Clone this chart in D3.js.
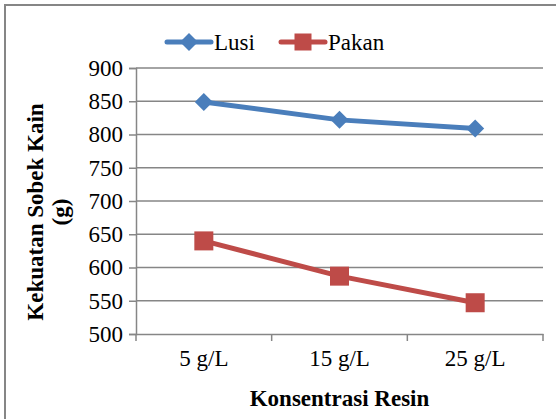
<!DOCTYPE html>
<html>
<head>
<meta charset="utf-8">
<script src="https://cdn.jsdelivr.net/npm/d3@7"></script>
<style>
  html, body { margin: 0; padding: 0; background: #fff; }
  svg { display: block; }
</style>
</head>
<body>
<svg id="chart" width="556" height="419"></svg>
<script>
const categories = ["5 g/L", "15 g/L", "25 g/L"];
const lusi = [849, 822, 809];
const pakan = [640, 587, 547];
const yTicks = [500, 550, 600, 650, 700, 750, 800, 850, 900];
const seriesNames = ["Lusi", "Pakan"];
const seriesColors = ["#4A7EBB", "#BE4B48"];

const svg = d3.select("#chart");
const W = 556, H = 419;
const margin = { left: 136, right: 13, top: 68, bottom: 85 };
const x0 = margin.left, x1 = W - margin.right;
const y0 = H - margin.bottom, y1 = margin.top;
const grid = "#868686";
const FONT = "'Liberation Serif'";

svg.append("rect").attr("x", 5).attr("y", 5).attr("width", 700).attr("height", 700)
  .attr("fill", "none").attr("stroke", grid).attr("stroke-width", 2);

const x = d3.scaleBand().domain(categories).range([x0, x1]);
const y = d3.scaleLinear().domain([500, 900]).range([y0, y1]);

svg.append("g").selectAll("line").data(yTicks.filter(d => d !== 500)).join("line")
  .attr("x1", x0).attr("x2", x1).attr("y1", d => y(d)).attr("y2", d => y(d))
  .attr("stroke", grid).attr("stroke-width", 1.5);

const yAxis = svg.append("g").attr("transform", `translate(${x0},0)`)
  .call(d3.axisLeft(y).tickValues(yTicks).tickSize(7).tickPadding(6).tickFormat(d3.format("d")));
yAxis.select(".domain").attr("stroke", grid).attr("stroke-width", 1.5);
yAxis.selectAll(".tick line").attr("stroke", grid).attr("stroke-width", 1.5);
yAxis.selectAll("text").style("font-family", FONT).style("font-size", "23px").attr("fill", "#000");

const xAxis = svg.append("g").attr("transform", `translate(0,${y0})`)
  .call(d3.axisBottom(x).tickSize(0).tickPadding(16));
xAxis.select(".domain").attr("stroke", grid).attr("stroke-width", 1.5);
xAxis.selectAll("text").style("font-family", FONT).style("font-size", "23px").attr("fill", "#000");
const bounds = [x0].concat(categories.map(c => x(c) + x.bandwidth()));
svg.append("g").selectAll("line").data(bounds).join("line")
  .attr("x1", d => d).attr("x2", d => d).attr("y1", y0).attr("y2", y0 + 7)
  .attr("stroke", grid).attr("stroke-width", 1.5);

const cx = c => x(c) + x.bandwidth() / 2;
const line = d3.line().x((d, i) => cx(categories[i])).y(d => y(d));

const diamond = (g, px, py, r, color) =>
  g.append("path").attr("d", `M${px},${py - r}L${px + r},${py}L${px},${py + r}L${px - r},${py}Z`)
   .attr("fill", color);
const square = (g, px, py, s, color) =>
  g.append("rect").attr("x", px - s / 2).attr("y", py - s / 2).attr("width", s).attr("height", s)
   .attr("fill", color);

const series = [lusi, pakan];
series.forEach((vals, si) => {
  const g = svg.append("g");
  g.append("path").datum(vals).attr("d", line).attr("fill", "none")
    .attr("stroke", seriesColors[si]).attr("stroke-width", 5).attr("stroke-linejoin", "round");
  vals.forEach((v, i) => {
    if (si === 0) diamond(g, cx(categories[i]), y(v), 9, seriesColors[si]);
    else square(g, cx(categories[i]), y(v), 19, seriesColors[si]);
  });
});

const leg = svg.append("g");
const legY = 42;
const legItems = [{ x: 167, name: seriesNames[0] }, { x: 281, name: seriesNames[1] }];
legItems.forEach((it, i) => {
  leg.append("line").attr("x1", it.x).attr("x2", it.x + 44).attr("y1", legY).attr("y2", legY)
    .attr("stroke", seriesColors[i]).attr("stroke-width", 5).attr("stroke-linecap", "round");
  if (i === 0) diamond(leg, it.x + 22, legY, 9, seriesColors[i]);
  else square(leg, it.x + 22, legY, 17, seriesColors[i]);
  leg.append("text").attr("x", it.x + 47).attr("y", legY + 8)
    .style("font-family", FONT).style("font-size", "23px").text(it.name);
});

svg.append("text").attr("x", (x0 + x1) / 2).attr("y", 406).attr("text-anchor", "middle")
  .style("font-family", FONT).style("font-size", "23px").style("font-weight", "bold").text("Konsentrasi Resin");
const yt = svg.append("text").attr("transform", `translate(0,212) rotate(-90)`)
  .attr("text-anchor", "middle")
  .style("font-family", FONT).style("font-size", "23px").style("font-weight", "bold");
yt.append("tspan").attr("x", 0).attr("y", 43).text("Kekuatan Sobek Kain");
yt.append("tspan").attr("x", 0).attr("y", 68).text("(g)");
</script>
</body>
</html>
